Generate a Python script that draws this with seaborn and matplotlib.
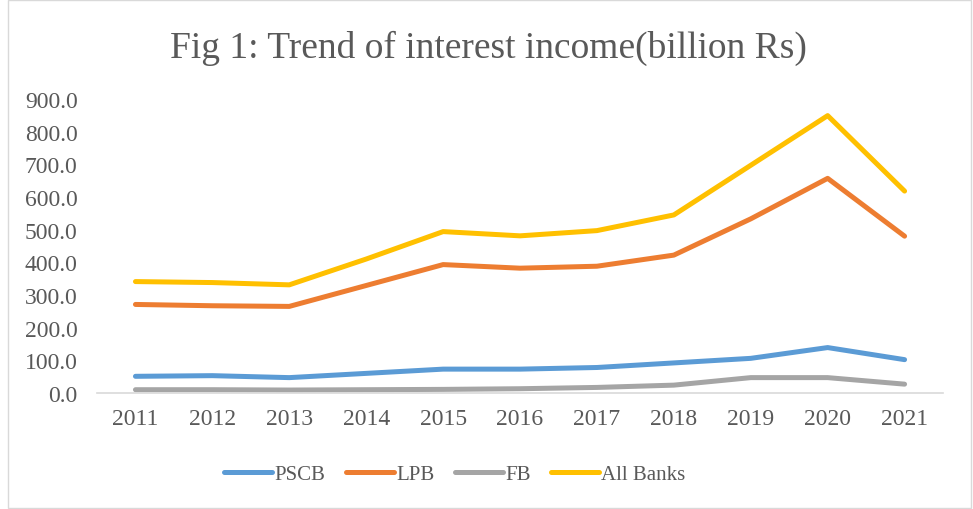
import matplotlib
matplotlib.use("Agg")
import matplotlib.pyplot as plt
import seaborn as sns
import pandas as pd
from matplotlib.patches import Rectangle

years = ["2011", "2012", "2013", "2014", "2015", "2016", "2017", "2018", "2019", "2020", "2021"]
pscb = [51, 53, 47, 60, 73, 73, 78, 92, 106, 139, 102]
lpb = [271, 267, 265, 329, 393, 382, 388, 422, 533, 657, 480]
fb = [10, 10, 9, 10, 11, 13, 17, 24, 47, 47, 27]
all_banks = [341, 338, 331, 410, 494, 481, 497, 545, 697, 849, 618]
series_names = ["PSCB", "LPB", "FB", "All Banks"]
colors = ["#5B9BD5", "#ED7D31", "#A5A5A5", "#FFC000"]
yticks = [0, 100, 200, 300, 400, 500, 600, 700, 800, 900]

rows = []
for name, vals in zip(series_names, [pscb, lpb, fb, all_banks]):
    for i, (yr, v) in enumerate(zip(years, vals)):
        rows.append({"idx": i, "year": yr, "value": v, "series": name})
df = pd.DataFrame(rows)

sns.set_theme(style="white")
plt.rcParams["font.family"] = ["Liberation Serif", "DejaVu Serif"]
text_color = "#595959"

fig = plt.figure(figsize=(9.73, 5.10), dpi=100)
ax = fig.add_axes([0.0997, 0.2275, 0.8695, 0.5765])

sns.lineplot(data=df, x="idx", y="value", hue="series", hue_order=series_names,
             palette=colors, linewidth=3.6, ax=ax, legend=True,
             solid_capstyle="round", solid_joinstyle="round")

ax.set_xlim(-0.5, 10.5)
ax.set_ylim(0, 900)
ax.set_xticks(range(len(years)))
ax.set_xticklabels(years)
ax.set_yticks(yticks)
ax.set_yticklabels([f"{v:.1f}" for v in yticks])
ax.tick_params(axis="both", colors=text_color, labelsize=17, length=0)
ax.tick_params(axis="x", pad=11)
ax.tick_params(axis="y", pad=14)
ax.set_xlabel("")
ax.set_ylabel("")
for s in ["top", "right", "left"]:
    ax.spines[s].set_visible(False)
ax.spines["bottom"].set_color("#D9D9D9")
ax.spines["bottom"].set_linewidth(1.2)

fig.text(0.502, 0.905, "Fig 1: Trend of interest income(billion Rs)", ha="center", va="center",
         fontsize=27, color=text_color)

handles, labels = ax.get_legend_handles_labels()
for h in handles:
    h.set_linewidth(3.6)
    h.set_solid_capstyle("round")
ax.legend(handles, labels, loc="center", bbox_to_anchor=(0.4675, 0.068), bbox_transform=fig.transFigure,
          ncol=4, frameon=False, fontsize=15, handlelength=2.3, handletextpad=0.1,
          columnspacing=1.0, labelcolor=text_color)

fig.patches.append(Rectangle((0.008, 0.002), 0.99, 0.996, transform=fig.transFigure,
                             fill=False, edgecolor="#D9D9D9", linewidth=1.0))

fig.savefig("out.png", dpi=100)
